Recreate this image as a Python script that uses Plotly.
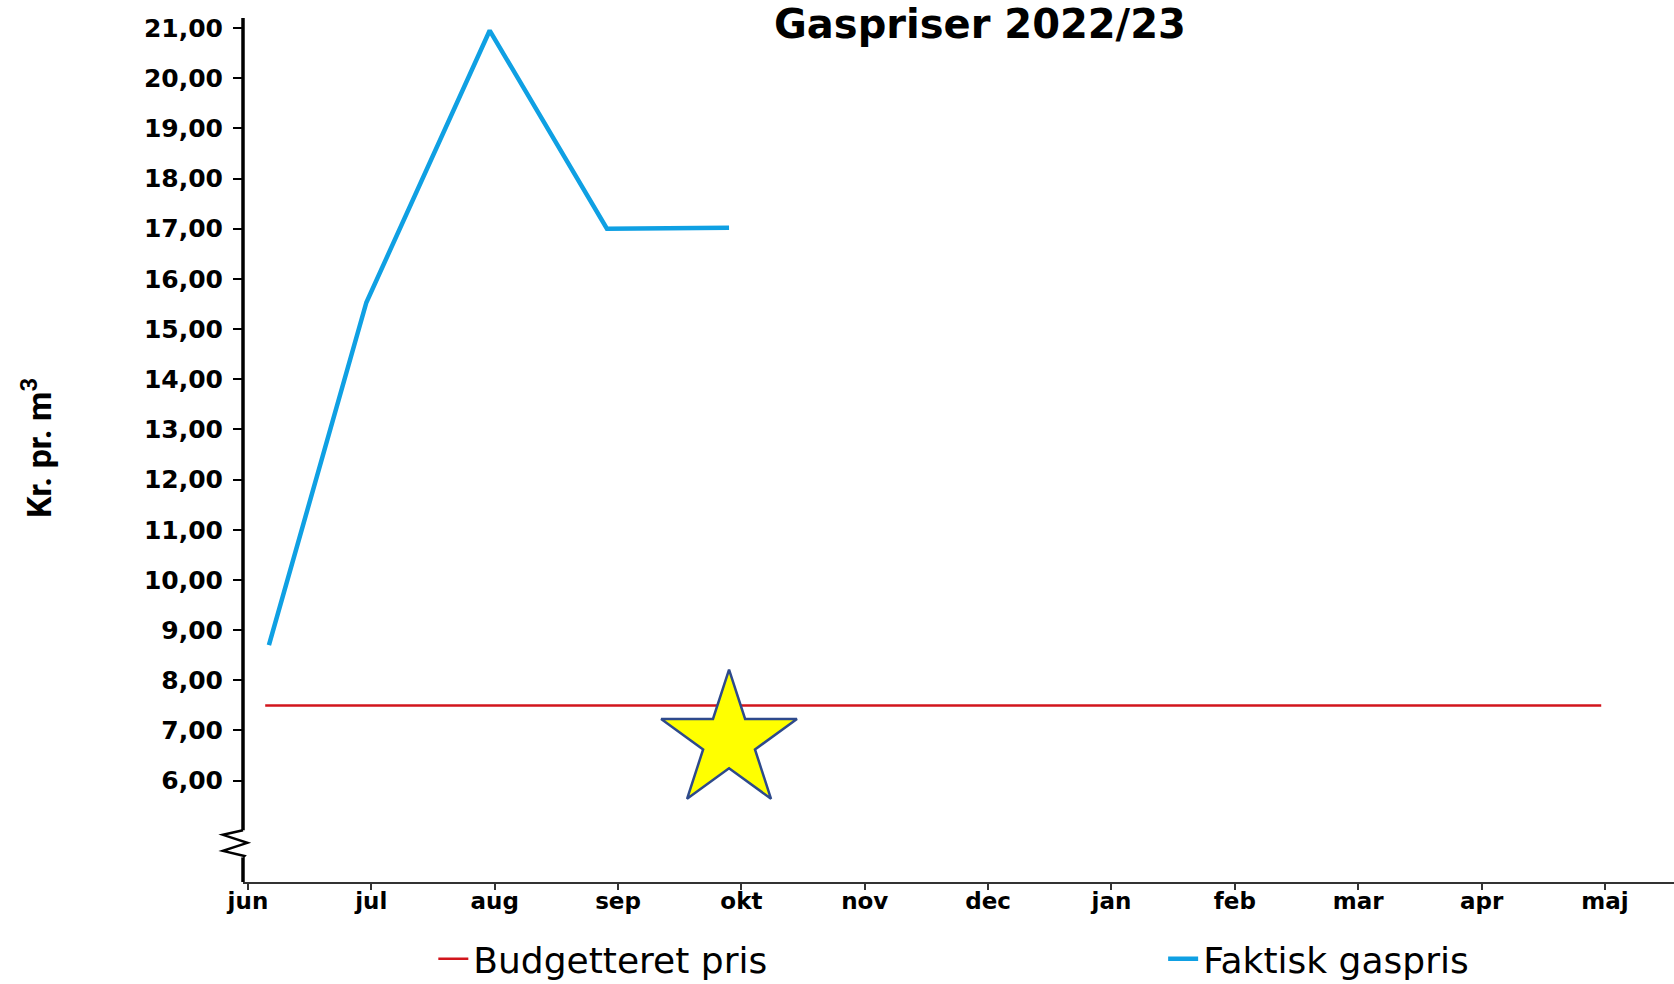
import plotly.graph_objects as go

# ---- data ----
months = ["jun", "jul", "aug", "sep", "okt", "nov", "dec", "jan", "feb", "mar", "apr", "maj"]
month_pos = list(range(len(months)))

ytick_vals = [6, 7, 8, 9, 10, 11, 12, 13, 14, 15, 16, 17, 18, 19, 20, 21]
ytick_labels = ["6,00", "7,00", "8,00", "9,00", "10,00", "11,00", "12,00", "13,00",
                "14,00", "15,00", "16,00", "17,00", "18,00", "19,00", "20,00", "21,00"]

budget_x = [0.14, 10.97]
budget_y = [7.5, 7.5]

actual_x = [0.17, 0.96, 1.96, 2.91, 3.90]
actual_y = [8.70, 15.53, 20.95, 17.00, 17.02]

star_x = [3.90]
star_y = [6.79]

Y_MIN, Y_MAX = 3.98, 21.2
BREAK_LO, BREAK_HI = 4.47, 5.01

RED = "#D2151C"
BLUE = "#0FA0E3"

fig = go.Figure()
fig.add_trace(go.Scatter(x=budget_x, y=budget_y, mode="lines", name="Budgetteret pris",
                         line=dict(color=RED, width=2.5), legend="legend"))
fig.add_trace(go.Scatter(x=actual_x, y=actual_y, mode="lines", name="Faktisk gaspris",
                         line=dict(color=BLUE, width=4.5), legend="legend2"))
fig.add_trace(go.Scatter(x=star_x, y=star_y, mode="markers", showlegend=False,
                         marker=dict(symbol="star", size=102, color="#FFFF00",
                                     line=dict(color="#2E4A8C", width=2.5)),
                         cliponaxis=False))

leg_common = dict(orientation="h", yanchor="middle", y=-0.089, xanchor="left",
                  font=dict(family="DejaVu Sans", size=36, color="black"),
                  bgcolor="rgba(0,0,0,0)")

fig.update_layout(
    width=1674, height=984,
    margin=dict(l=243, r=0, t=18, b=102, autoexpand=False),
    paper_bgcolor="white", plot_bgcolor="white",
    showlegend=True,
    legend=dict(x=0.133, **leg_common),
    legend2=dict(x=0.643, **leg_common),
    xaxis=dict(range=[-0.04, 11.56], tickvals=month_pos, ticktext=months,
               showgrid=False, zeroline=False, showline=True, linecolor="#333333", linewidth=2,
               ticks="outside", ticklen=6, tickwidth=2, tickcolor="#333333",
               tickfont=dict(family="DejaVu Sans", size=23, color="black", weight="bold"),
               ticklabelstandoff=-9),
    yaxis=dict(range=[Y_MIN, Y_MAX], tickvals=ytick_vals, ticktext=ytick_labels,
               showgrid=False, zeroline=False, showline=False,
               ticks="outside", ticklen=9, tickwidth=1.5, tickcolor="black",
               tickfont=dict(family="DejaVu Sans", size=25, color="black", weight="bold"),
               ticklabelstandoff=5),
    annotations=[
        dict(text="<b>Gaspriser 2022/23</b>", xref="paper", yref="paper",
             x=(980 - 243) / 1431, y=1 + (882 - 864.2 - 23.5) / 864.2,
             xanchor="center", yanchor="middle", showarrow=False,
             font=dict(family="DejaVu Sans", size=40, color="black")),
        dict(text="<b>Kr. pr. m<sup>3</sup></b>", xref="paper", yref="paper",
             x=(37 - 243) / 1431, y=(882 - 448) / 864.2, textangle=-90,
             xanchor="center", yanchor="middle", showarrow=False,
             font=dict(family="Roboto", size=34, color="black")),
    ],
    shapes=[
        # y axis line, drawn in two pieces around the axis break
        dict(type="line", xref="paper", yref="y", x0=0, x1=0, y0=BREAK_HI, y1=Y_MAX,
             line=dict(color="black", width=3.5), layer="above"),
        dict(type="line", xref="paper", yref="y", x0=0, x1=0, y0=Y_MIN, y1=BREAK_LO,
             line=dict(color="black", width=3.5), layer="above"),
        # zigzag break mark
        dict(type="path", xref="paper", yref="y",
             path="M 0,5.01 L -0.014,4.92 L 0.003,4.76 L -0.014,4.60 L 0.001,4.50 L 0,4.47",
             line=dict(color="black", width=2.5), layer="above"),
    ],
)

fig.write_html("out.html", config={"displayModeBar": False},
               post_script="document.body.style.margin='0';")
